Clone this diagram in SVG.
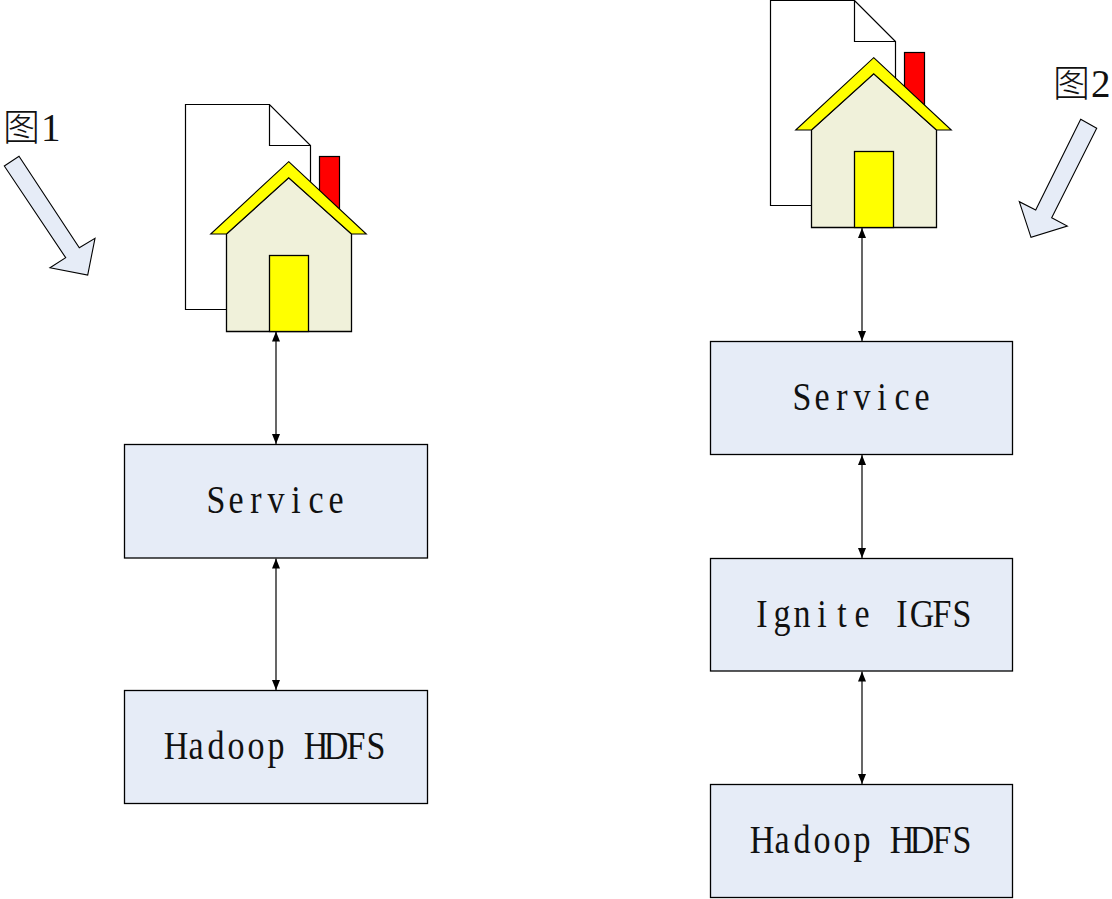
<svg xmlns="http://www.w3.org/2000/svg" width="1112" height="899" viewBox="0 0 1112 899">
<style>
.box{fill:#e6ecf7;stroke:#000;stroke-width:1.3}
.doc{fill:#fff;stroke:#000;stroke-width:1.2}
.wall{fill:#f0f1da;stroke:#000;stroke-width:1.3}
.roof{fill:#ffff00;stroke:#000;stroke-width:1.1;stroke-linejoin:miter}
.door{fill:#ffff00;stroke:#000;stroke-width:1.3}
.chim{fill:#ff0000;stroke:#000;stroke-width:1.2}
.arrow{fill:#e6ecf7;stroke:#000;stroke-width:1.1}
.conn{stroke:#000;stroke-width:1.2;fill:none;marker-start:url(#head);marker-end:url(#head)}
.lbl{font-family:"Liberation Serif","Noto Sans CJK SC",serif;font-size:40px;fill:#111;text-anchor:middle}
.fig{font-family:"Noto Sans CJK SC","Liberation Serif",serif;font-size:37px;font-weight:300;fill:#111}
.num{font-family:"Liberation Serif",serif;font-size:39px}
</style>
<defs>
<marker id="head" viewBox="0 0 10 8" refX="10" refY="4" markerWidth="10" markerHeight="8" markerUnits="userSpaceOnUse" orient="auto-start-reverse"><path d="M0 0L10 4L0 8Z" fill="#000"/></marker>
<g id="home">
<path class="doc" d="M185.500 104.500H269.500L310.500 145.500V309.500H185.500ZM269.500 104.500V145.500H310.500"/>
<rect class="chim" x="319.500" y="156.500" width="20" height="60"/>
<path class="wall" d="M226.500 234L288.700 177.700L351.500 234V331.500H226.500Z"/>
<path class="roof" d="M288.700 161.700L366.300 234H351.500L288.700 177.700L226.500 234H210.700Z"/>
<rect class="door" x="269.500" y="255.500" width="39" height="76"/>
</g>
</defs>
<g id="connectors">
<line class="conn" x1="276" y1="331.500" x2="276" y2="444"/>
<line class="conn" x1="276" y1="558.500" x2="276" y2="690"/>
<line class="conn" x1="862" y1="228" x2="862" y2="341"/>
<line class="conn" x1="862" y1="455" x2="862" y2="558"/>
<line class="conn" x1="862" y1="671.500" x2="862" y2="784"/>
</g>
<g id="house-1"><use href="#home"/></g>
<g id="house-2"><use href="#home" x="585" y="-104"/></g>
<g id="service-1"><rect class="box" x="124.500" y="444.500" width="303" height="113.500"/><text class="lbl" transform="translate(276 513) scale(.85 1)" x="-70.590 -47.060 -23.530 0 23.530 47.060 70.590" y="0">Service</text></g>
<g id="hdfs-1"><rect class="box" x="124.500" y="690.500" width="303" height="113"/><text class="lbl" transform="translate(276 759) scale(.85 1)" x="-117.650 -94.120 -70.590 -47.060 -23.530 0 23.530 47.060 70.590 94.120 117.650" y="0">Hadoop HDFS</text></g>
<g id="service-2"><rect class="box" x="710.500" y="341.500" width="302" height="113"/><text class="lbl" transform="translate(862 410) scale(.85 1)" x="-70.590 -47.060 -23.530 0 23.530 47.060 70.590" y="0">Service</text></g>
<g id="ignite"><rect class="box" x="710.500" y="558.500" width="302" height="112.500"/><text class="lbl" transform="translate(862 627) scale(.85 1)" x="-117.650 -94.120 -70.590 -47.060 -23.530 0 23.530 47.060 70.590 94.120 117.650" y="0">Ignite IGFS</text></g>
<g id="hdfs-2"><rect class="box" x="710.500" y="784.500" width="302" height="113"/><text class="lbl" transform="translate(862 853) scale(.85 1)" x="-117.650 -94.120 -70.590 -47.060 -23.530 0 23.530 47.060 70.590 94.120 117.650" y="0">Hadoop HDFS</text></g>
<g id="note-1"><polygon class="arrow" points="4.300,166 19,156.300 79.300,247.700 95,238.300 87.700,275 50,267.700 65.700,257.700"/><text class="fig" x="3" y="141">图<tspan class="num" dx="1">1</tspan></text></g>
<g id="note-2"><polygon class="arrow" points="1080.700,119.300 1096.700,128.300 1051.700,217.700 1067.300,226 1031,237.300 1019.300,201.700 1035.700,210"/><text class="fig" x="1053" y="97">图<tspan class="num" dx="1">2</tspan></text></g>
</svg>
